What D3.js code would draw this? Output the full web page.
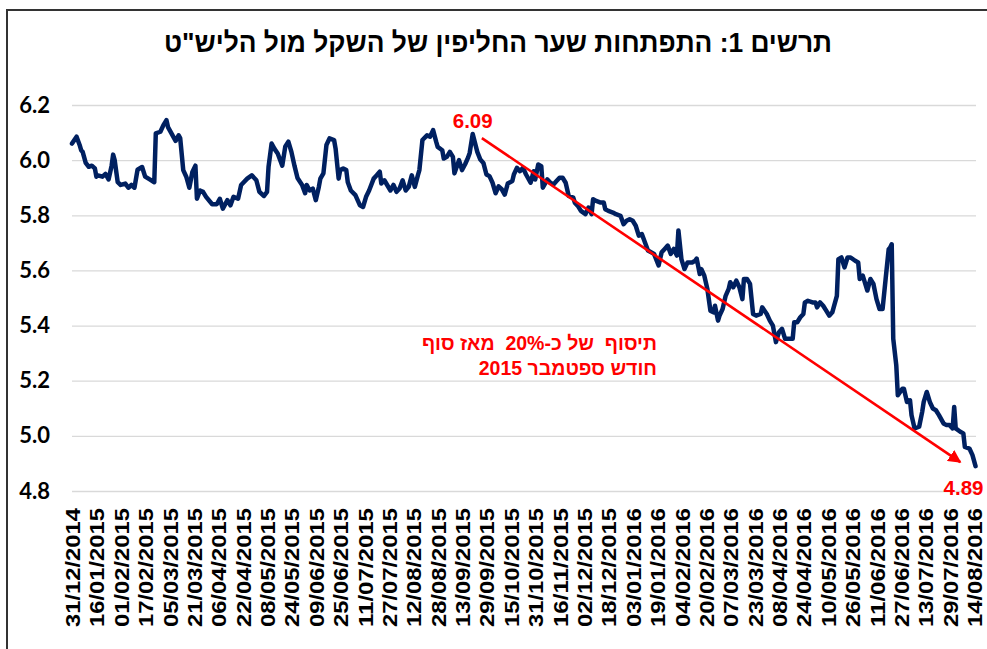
<!DOCTYPE html>
<html>
<head>
<meta charset="utf-8">
<script src="https://cdn.jsdelivr.net/npm/d3@7/dist/d3.min.js"></script>
<style>
  html, body { margin: 0; padding: 0; background: #ffffff; }
  svg { display: block; }
</style>
</head>
<body>
<svg id="chart" width="987" height="649"></svg>
<script>
// ---------------- DATA ----------------
const title = "תרשים 1: התפתחות שער החליפין של השקל מול הליש\"ט";

const dates = [
  "2014-12-31","2015-01-03","2015-01-05","2015-01-06","2015-01-07","2015-01-09","2015-01-11","2015-01-13","2015-01-15","2015-01-16","2015-01-17","2015-01-20","2015-01-22","2015-01-24","2015-01-26","2015-01-27","2015-01-28","2015-01-30",
  "2015-02-01","2015-02-04","2015-02-06","2015-02-08","2015-02-10","2015-02-12","2015-02-15","2015-02-17","2015-02-20","2015-02-23","2015-02-24","2015-02-27",
  "2015-03-01","2015-03-03","2015-03-04","2015-03-06","2015-03-09","2015-03-11","2015-03-12","2015-03-14","2015-03-16","2015-03-18","2015-03-20","2015-03-22","2015-03-23","2015-03-25","2015-03-27","2015-03-29",
  "2015-04-02","2015-04-05","2015-04-07","2015-04-09","2015-04-12","2015-04-14","2015-04-16","2015-04-19","2015-04-21","2015-04-25","2015-04-28",
  "2015-05-01","2015-05-03","2015-05-06","2015-05-08","2015-05-09","2015-05-11","2015-05-13","2015-05-15","2015-05-18","2015-05-20","2015-05-22","2015-05-24","2015-05-26","2015-05-28","2015-05-31",
  "2015-06-02","2015-06-03","2015-06-05","2015-06-07","2015-06-09","2015-06-11","2015-06-12","2015-06-14","2015-06-16","2015-06-18","2015-06-21","2015-06-22","2015-06-24","2015-06-25","2015-06-27","2015-06-29","2015-06-30",
  "2015-07-02","2015-07-05","2015-07-08","2015-07-10","2015-07-12","2015-07-14","2015-07-17","2015-07-19","2015-07-21","2015-07-22","2015-07-24","2015-07-28","2015-07-30",
  "2015-08-01","2015-08-03","2015-08-05","2015-08-07","2015-08-09","2015-08-11","2015-08-13","2015-08-15","2015-08-16","2015-08-18","2015-08-21","2015-08-23","2015-08-25","2015-08-27","2015-08-28","2015-08-31",
  "2015-09-01","2015-09-03","2015-09-05","2015-09-07","2015-09-08","2015-09-11","2015-09-13","2015-09-15","2015-09-17","2015-09-18","2015-09-20","2015-09-23","2015-09-25","2015-09-27","2015-09-29",
  "2015-10-01","2015-10-03","2015-10-05","2015-10-07","2015-10-09","2015-10-11","2015-10-13","2015-10-16","2015-10-17","2015-10-19","2015-10-21","2015-10-23","2015-10-25","2015-10-28","2015-10-30","2015-10-31",
  "2015-11-02","2015-11-04","2015-11-05","2015-11-08","2015-11-10","2015-11-12","2015-11-14","2015-11-16","2015-11-18","2015-11-20","2015-11-22","2015-11-25","2015-11-26","2015-11-28","2015-11-30",
  "2015-12-03","2015-12-05","2015-12-07","2015-12-08","2015-12-10","2015-12-13","2015-12-15","2015-12-16","2015-12-18","2015-12-21","2015-12-23","2015-12-26","2015-12-28","2015-12-30",
  "2016-01-01","2016-01-03","2016-01-05","2016-01-07","2016-01-09","2016-01-11","2016-01-13","2016-01-17","2016-01-20","2016-01-22","2016-01-24","2016-01-26","2016-01-28","2016-01-30",
  "2016-02-01","2016-02-02","2016-02-04","2016-02-06","2016-02-08","2016-02-11","2016-02-13","2016-02-14","2016-02-16","2016-02-17","2016-02-19","2016-02-21","2016-02-23","2016-02-25","2016-02-26","2016-02-28","2016-02-29",
  "2016-03-02","2016-03-04","2016-03-06","2016-03-07","2016-03-09","2016-03-11","2016-03-13","2016-03-15","2016-03-16","2016-03-18","2016-03-20","2016-03-22","2016-03-24","2016-03-27","2016-03-28","2016-03-31",
  "2016-04-02","2016-04-04","2016-04-06","2016-04-08","2016-04-10","2016-04-12","2016-04-15","2016-04-17","2016-04-18","2016-04-20","2016-04-22","2016-04-24","2016-04-25","2016-04-27","2016-04-30",
  "2016-05-02","2016-05-03","2016-05-05","2016-05-07","2016-05-09","2016-05-11","2016-05-13","2016-05-16","2016-05-17","2016-05-19","2016-05-21","2016-05-23","2016-05-25","2016-05-28","2016-05-30","2016-05-31",
  "2016-06-02","2016-06-05","2016-06-07","2016-06-09","2016-06-11","2016-06-13","2016-06-15","2016-06-17","2016-06-19","2016-06-20","2016-06-21","2016-06-22","2016-06-24","2016-06-25","2016-06-28","2016-06-29",
  "2016-07-01","2016-07-03","2016-07-04","2016-07-06","2016-07-09","2016-07-11","2016-07-12","2016-07-14","2016-07-16","2016-07-18","2016-07-20","2016-07-22","2016-07-25","2016-07-27","2016-07-29","2016-07-31",
  "2016-08-01","2016-08-02","2016-08-05","2016-08-07","2016-08-08","2016-08-11","2016-08-13","2016-08-15"
];

const rates = [
  6.06,6.085,6.055,6.036,6.03,5.99,5.976,5.98,5.97,5.94,5.945,5.94,5.95,5.93,5.98,6.02,6.0,5.92,
  5.91,5.915,5.90,5.91,5.90,5.965,5.975,5.94,5.93,5.92,6.097,6.103,
  6.127,6.145,6.12,6.10,6.07,6.09,6.08,5.964,5.94,5.90,5.957,5.98,5.86,5.89,5.885,5.867,
  5.84,5.84,5.86,5.824,5.855,5.836,5.867,5.86,5.91,5.933,5.945,
  5.927,5.885,5.87,5.885,5.976,6.06,6.04,6.024,5.98,6.05,6.067,6.03,5.98,5.935,5.91,
  5.88,5.91,5.89,5.897,5.855,5.903,5.933,5.952,6.055,6.079,6.073,6.042,5.933,5.964,5.97,5.964,5.92,
  5.89,5.873,5.836,5.83,5.867,5.89,5.933,5.945,5.958,5.915,5.927,5.89,5.91,
  5.885,5.897,5.927,5.89,5.903,5.945,5.903,5.945,5.964,6.073,6.09,6.085,6.109,6.067,6.048,6.036,
  6.006,6.012,6.03,6.012,5.952,6.0,5.964,5.985,6.01,6.026,6.095,6.03,6.002,5.99,5.948,
  5.942,5.918,5.88,5.905,5.895,5.875,5.915,5.924,5.948,5.972,5.96,5.972,5.948,5.918,5.96,5.93,
  5.984,5.978,5.90,5.93,5.918,5.912,5.924,5.936,5.936,5.918,5.87,5.864,5.846,5.834,5.816,
  5.804,5.828,5.804,5.858,5.852,5.846,5.846,5.822,5.816,5.81,5.804,5.798,5.768,5.78,
  5.786,5.78,5.762,5.726,5.732,5.702,5.672,5.66,5.618,5.666,5.678,5.69,5.66,5.678,
  5.654,5.745,5.64,5.605,5.629,5.629,5.635,5.643,5.587,5.605,5.581,5.533,5.454,5.448,5.472,5.418,5.436,
  5.46,5.508,5.533,5.557,5.539,5.563,5.539,5.496,5.569,5.569,5.551,5.442,5.436,5.442,5.466,5.442,
  5.418,5.40,5.34,5.376,5.388,5.352,5.352,5.352,5.412,5.412,5.43,5.442,5.484,5.49,5.484,
  5.484,5.466,5.484,5.472,5.454,5.436,5.448,5.508,5.641,5.647,5.611,5.647,5.647,5.635,5.629,5.569,
  5.581,5.527,5.569,5.551,5.496,5.46,5.46,5.569,5.677,5.683,5.695,5.352,5.255,5.147,5.171,5.171,
  5.123,5.129,5.075,5.027,5.033,5.087,5.123,5.159,5.123,5.099,5.093,5.075,5.045,5.039,5.039,5.027,
  5.105,5.027,5.015,5.009,4.96,4.954,4.93,4.89
];

const xTickLabels = [
  "31/12/2014","16/01/2015","01/02/2015","17/02/2015","05/03/2015","21/03/2015","06/04/2015","22/04/2015",
  "08/05/2015","24/05/2015","09/06/2015","25/06/2015","11/07/2015","27/07/2015","12/08/2015","28/08/2015",
  "13/09/2015","29/09/2015","15/10/2015","31/10/2015","16/11/2015","02/12/2015","18/12/2015","03/01/2016",
  "19/01/2016","04/02/2016","20/02/2016","07/03/2016","23/03/2016","08/04/2016","24/04/2016","10/05/2016",
  "26/05/2016","11/06/2016","27/06/2016","13/07/2016","29/07/2016","14/08/2016"
];
const yTicks = [4.8, 5.0, 5.2, 5.4, 5.6, 5.8, 6.0, 6.2];

// annotations (data coordinates)
const flatLine = { from: ["2014-12-31", 6.0], to: ["2015-09-18", 6.0] };
const trendArrow = { from: ["2015-09-26", 6.08], to: ["2016-08-05", 4.905] };
const peakLabel = { text: "6.09", date: "2015-09-20", value: 6.095 };
const endLabel = { text: "4.89", date: "2016-08-15", value: 4.89 };
const noteLines = ["תיסוף  של כ-20%  מאז סוף", "חודש ספטמבר 2015"];

// ---------------- CHART ----------------
const svg = d3.select("#chart");
const parse = d3.timeParse("%Y-%m-%d");
const parseTick = d3.timeParse("%d/%m/%Y");
const fmtTick = d3.timeFormat("%d/%m/%Y");

const series = dates.map((d, i) => ({ date: parse(d), value: rates[i] }));
const tickDates = xTickLabels.map(parseTick);

const x = d3.scaleTime()
  .domain([tickDates[0], tickDates[tickDates.length - 1]])
  .range([72, 974]);
const y = d3.scaleLinear().domain([4.8, 6.2]).range([491, 105]);

// outer frame
svg.append("rect")
  .attr("x", 7).attr("y", 10).attr("width", 990).attr("height", 660)
  .attr("fill", "none").attr("stroke", "#333").attr("stroke-width", 2);

// defs
const defs = svg.append("defs");
defs.append("marker")
  .attr("id", "arrow").attr("viewBox", "0 0 10 10")
  .attr("refX", 9).attr("refY", 5)
  .attr("markerWidth", 5).attr("markerHeight", 5)
  .attr("markerUnits", "strokeWidth")
  .attr("orient", "auto")
  .append("path").attr("d", "M0,0 L10,5 L0,10 Z").attr("fill", "#ff0000");
const flt = defs.append("filter").attr("id", "shadow")
  .attr("x", "-5%").attr("y", "-50%").attr("width", "110%").attr("height", "200%");
flt.append("feDropShadow").attr("dx", 1).attr("dy", 2).attr("stdDeviation", 1.2)
  .attr("flood-color", "#000").attr("flood-opacity", 0.3);

// title
svg.append("text")
  .attr("x", 498).attr("y", 42)
  .attr("text-anchor", "middle").attr("dominant-baseline", "central")
  .attr("direction", "rtl")
  .attr("textLength", 668).attr("lengthAdjust", "spacingAndGlyphs")
  .style("font-family", "'Liberation Sans Narrow','Liberation Sans','DejaVu Sans',sans-serif")
  .style("font-weight", "bold").style("font-size", "28px").style("fill", "#000")
  .text(title);

// grid + y axis
const yAxis = d3.axisLeft(y).tickValues(yTicks).tickFormat(d3.format(".1f"))
  .tickSize(-(976 - 72)).tickPadding(22);
const gy = svg.append("g").attr("transform", "translate(72,0)").call(yAxis);
gy.select(".domain").remove();
gy.selectAll(".tick line").attr("stroke", "#d9d9d9").attr("stroke-width", 1.3);
gy.selectAll(".tick text")
  .attr("x", -22)
  .style("font-family", "Lato, 'Open Sans', sans-serif")
  .style("font-weight", "bold").style("font-size", "22px").style("fill", "#000");

// x axis (labels only)
const xAxis = d3.axisBottom(x).tickValues(tickDates).tickFormat(fmtTick).tickSize(0);
const gx = svg.append("g").attr("transform", "translate(0,491)").call(xAxis);
gx.select(".domain").remove();
gx.selectAll(".tick text")
  .attr("transform", "rotate(-90)")
  .attr("x", -17).attr("y", 0).attr("dy", "0.36em")
  .attr("text-anchor", "end")
  .attr("textLength", 119).attr("lengthAdjust", "spacingAndGlyphs")
  .style("font-family", "'Liberation Sans', Arial, sans-serif")
  .style("font-weight", "bold").style("font-size", "21px").style("fill", "#000");

// red horizontal reference arrow
svg.append("line")
  .attr("x1", x(parse(flatLine.from[0]))).attr("y1", y(flatLine.from[1]))
  .attr("x2", x(parse(flatLine.to[0]))).attr("y2", y(flatLine.to[1]))
  .attr("stroke", "#ff0000").attr("stroke-width", 2.6)
  .attr("marker-end", "url(#arrow)")
  .attr("filter", "url(#shadow)");

// data line
const line = d3.line().x(d => x(d.date)).y(d => y(d.value));
svg.append("path").datum(series)
  .attr("d", line)
  .attr("fill", "none").attr("stroke", "#002060").attr("stroke-width", 4.5)
  .attr("stroke-linejoin", "round").attr("stroke-linecap", "round");

// trend arrow
svg.append("line")
  .attr("x1", x(parse(trendArrow.from[0]))).attr("y1", y(trendArrow.from[1]))
  .attr("x2", x(parse(trendArrow.to[0]))).attr("y2", y(trendArrow.to[1]))
  .attr("stroke", "#ff0000").attr("stroke-width", 2.6)
  .attr("marker-end", "url(#arrow)");

// labels
const redText = (sel) => sel
  .style("font-family", "'Liberation Sans', Arial, sans-serif")
  .style("font-weight", "bold").style("fill", "#ff0000");

svg.append("text").call(redText)
  .attr("x", x(parse(peakLabel.date)))
  .attr("y", y(peakLabel.value) - 13)
  .attr("text-anchor", "middle").attr("dominant-baseline", "central")
  .style("font-size", "20.5px").text(peakLabel.text);

svg.append("text").call(redText)
  .attr("x", x(parse(endLabel.date)) - 12)
  .attr("y", y(endLabel.value) + 21)
  .attr("text-anchor", "middle").attr("dominant-baseline", "central")
  .style("font-size", "20.5px").text(endLabel.text);

noteLines.forEach((t, i) => {
  svg.append("text").call(redText)
    .attr("x", 657).attr("y", 343 + i * 25)
    .attr("direction", "rtl")
    .attr("text-anchor", "start").attr("dominant-baseline", "central")
    .style("font-size", "19.5px")
    .style("white-space", "pre")
    .text(t);
});
</script>
</body>
</html>
